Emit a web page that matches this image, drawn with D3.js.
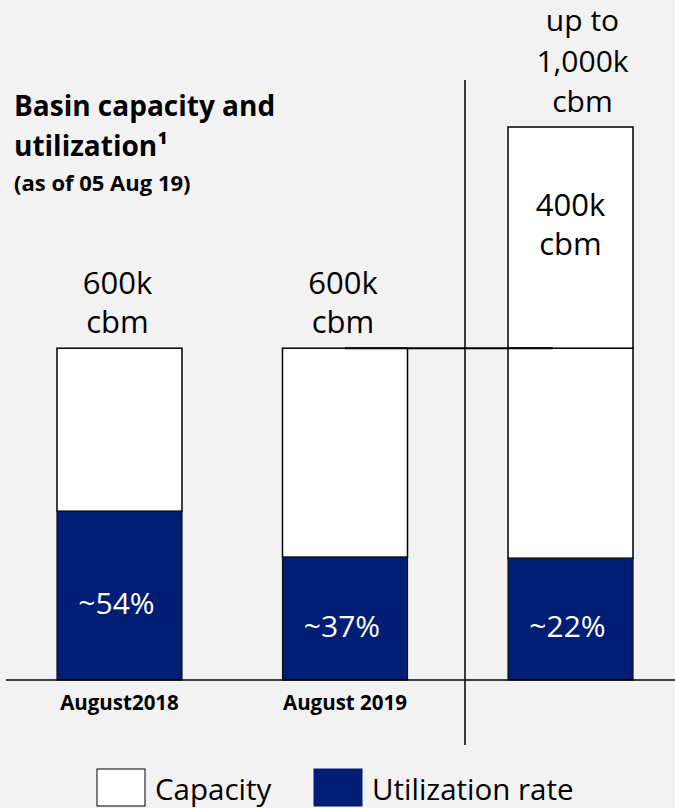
<!DOCTYPE html>
<html><head><meta charset="utf-8">
<script src="https://cdn.jsdelivr.net/npm/d3@7"></script>
<style>body{margin:0;background:#f2f2f2;}svg{display:block;}</style>
</head><body>
<script>
const categories = ["August2018", "August 2019", "Future"];
const axisLabels = ["August2018", "August 2019", ""];
const baseCapacity = [600, 600, 600];      // k cbm
const extraCapacity = [0, 0, 400];         // k cbm
const utilizedVolume = [305, 222, 220];    // k cbm (drawn height)
const utilizationPct = ["~54%", "~37%", "~22%"];
const topLabels = [["600k","cbm"],["600k","cbm"],["up to","1,000k","cbm"]];
const extraLabel = ["400k","cbm"];

const W = 675, H = 808;
const navy = "#001e73";
const font = "'Open Sans', sans-serif";
const svg = d3.select("body").append("svg").attr("width", W).attr("height", H);
svg.append("rect").attr("width", W).attr("height", H).attr("fill", "#f2f2f2");

const x = d3.scaleBand().domain(categories).range([6.75, 683.25]).paddingInner(0.4457).paddingOuter(0.2228);
const y = d3.scaleLinear().domain([0, 1000]).range([680, 127]);

// stacked segments
const segs = [];
categories.forEach((c, i) => {
  segs.push({c, y0: utilizedVolume[i], y1: baseCapacity[i]});
  if (extraCapacity[i] > 0) segs.push({c, y0: baseCapacity[i], y1: baseCapacity[i] + extraCapacity[i]});
});
svg.selectAll("rect.cap").data(segs).join("rect").attr("class","cap")
  .attr("x", d => x(d.c)).attr("width", x.bandwidth())
  .attr("y", d => y(d.y1)).attr("height", d => y(d.y0) - y(d.y1))
  .attr("fill", "#ffffff").attr("stroke", "#000").attr("stroke-width", 1.5);
svg.selectAll("rect.util").data(categories).join("rect").attr("class","util")
  .attr("x", c => x(c)).attr("width", x.bandwidth())
  .attr("y", (c, i) => y(utilizedVolume[i])).attr("height", (c, i) => y(0) - y(utilizedVolume[i]))
  .attr("fill", navy).attr("stroke", "#111").attr("stroke-width", 1.2);

// connector line
svg.append("line").attr("x1", x(categories[1]) + x.bandwidth()/2).attr("x2", x(categories[2]) + 45)
  .attr("y1", y(600)).attr("y2", y(600)).attr("stroke", "#000").attr("stroke-width", 2);

// baseline and divider
svg.append("line").attr("x1", 6).attr("x2", W).attr("y1", y(0)).attr("y2", y(0)).attr("stroke", "#000").attr("stroke-width", 1.5);
svg.append("line").attr("x1", 465).attr("x2", 465).attr("y1", 80).attr("y2", 745).attr("stroke", "#000").attr("stroke-width", 1.5);

// labels
categories.forEach((c, i) => {
  const lines = topLabels[i];
  const cx = x(c) + x.bandwidth()/2;
  const top = y(baseCapacity[i] + extraCapacity[i]);
  const three = lines.length > 2;
  const gap = three ? 40.5 : 39;
  lines.forEach((t, j) => {
    svg.append("text").attr("x", cx + (three ? 12 : -2)).attr("y", top - 15 - (lines.length - 1 - j) * gap)
      .attr("text-anchor", "middle").attr("font-family", font).attr("font-size", three ? 30 : 31).attr("fill", "#000").text(t);
  });
  svg.append("text").attr("x", cx - 3).attr("y", (y(0) + y(utilizedVolume[i]))/2 + 18)
    .attr("text-anchor", "middle").attr("font-family", font).attr("font-size", 30).attr("fill", "#fff").text(utilizationPct[i]);
  svg.append("text").attr("x", cx).attr("y", 710)
    .attr("text-anchor", "middle").attr("font-family", font).attr("font-size", 20.5).attr("font-weight", "bold").attr("fill", "#000").text(axisLabels[i]);
});
// extra capacity label
extraLabel.forEach((t, j) => {
  const c = categories[2];
  svg.append("text").attr("x", x(c) + x.bandwidth()/2).attr("y", 216 + j * 39)
    .attr("text-anchor", "middle").attr("font-family", font).attr("font-size", 31).attr("fill", "#000").text(t);
});

// title
svg.append("text").attr("x", 14).attr("y", 116).attr("font-family", font).attr("font-size", 28).attr("font-weight", "bold").text("Basin capacity and");
svg.append("text").attr("x", 14).attr("y", 156).attr("font-family", font).attr("font-size", 28).attr("font-weight", "bold").text("utilization¹");
svg.append("text").attr("x", 14).attr("y", 191).attr("font-family", font).attr("font-size", 22).attr("font-weight", "bold").text("(as of 05 Aug 19)");

// legend
const legend = [{label: "Capacity", fill: "#fff", x: 97}, {label: "Utilization rate", fill: navy, x: 314}];
legend.forEach(l => {
  svg.append("rect").attr("x", l.x).attr("y", 769).attr("width", 48).attr("height", 37)
    .attr("fill", l.fill).attr("stroke", l.fill === "#fff" ? "#000" : navy).attr("stroke-width", 1);
  svg.append("text").attr("x", l.x + 58).attr("y", 800).attr("font-family", font).attr("font-size", 29.5).attr("fill", "#000").text(l.label);
});
</script>
</body></html>
